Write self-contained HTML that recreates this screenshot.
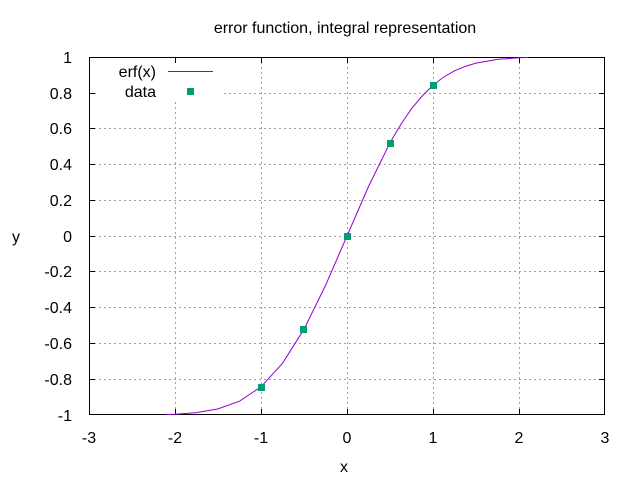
<!DOCTYPE html><html><head><style>body{margin:0;background:#fff}svg{display:block}text{font-family:"Liberation Sans",sans-serif;font-size:16px;fill:#000}</style></head><body>
<svg width="640" height="480" xmlns="http://www.w3.org/2000/svg">
<g stroke="#a0a0a0" stroke-width="1" stroke-dasharray="2,3">
<path d="M175.5 57V415M261.5 57V415M347.5 57V415M433.5 57V415M519.5 57V415"/>
<path d="M89 93.5H605M89 128.5H605M89 164.5H605M89 200.5H605M89 236.5H605M89 271.5H605M89 307.5H605M89 343.5H605M89 379.5H605"/>
</g>
<rect x="98" y="60" width="124" height="40" fill="#fff"/>
<rect x="89.5" y="57.5" width="515" height="357" fill="none" stroke="#000"/>
<g stroke="#000">
<path d="M175.5 415v-6M261.5 415v-6M347.5 415v-6M433.5 415v-6M519.5 415v-6M175.5 57v6M261.5 57v6M347.5 57v6M433.5 57v6M519.5 57v6"/>
<path d="M89 93.5h6M89 128.5h6M89 164.5h6M89 200.5h6M89 236.5h6M89 271.5h6M89 307.5h6M89 343.5h6M89 379.5h6M605 93.5h-6M605 128.5h-6M605 164.5h-6M605 200.5h-6M605 236.5h-6M605 271.5h-6M605 307.5h-6M605 343.5h-6M605 379.5h-6"/>
</g>
<g text-anchor="end">
<text x="72" y="63">1</text><text x="72" y="99">0.8</text><text x="72" y="134">0.6</text><text x="72" y="170">0.4</text><text x="72" y="206">0.2</text><text x="72" y="242">0</text><text x="72" y="277">-0.2</text><text x="72" y="313">-0.4</text><text x="72" y="349">-0.6</text><text x="72" y="385">-0.8</text><text x="72" y="421">-1</text>
</g>
<g text-anchor="middle">
<text x="89" y="443">-3</text><text x="175" y="443">-2</text><text x="261" y="443">-1</text><text x="347" y="443">0</text><text x="433" y="443">1</text><text x="519" y="443">2</text><text x="605" y="443">3</text>
<text x="345" y="33">error function, integral representation</text>
<text x="344" y="472">x</text>
<text x="16" y="242">y</text>
</g>
<text x="156" y="77" text-anchor="end">erf(x)</text>
<text x="156" y="97" text-anchor="end">data</text>
<path d="M168 71.5H213" stroke="#9400d3"/>
<polyline fill="none" stroke="#9400d3" points="166.4,414.5 175,414.2 196.5,412.6 218,408.9 239.5,401.2 261,386.8 282.5,363.3 304,329.2 325.5,285.5 347,236 368.5,186.5 390,142.8 400.8,124.5 411.5,108.7 422.3,95.9 433,85.2 443.8,77 454.5,70.8 465.3,66.4 476,63.1 497.5,59.4 519,57.8 527.6,57.5"/>
<g fill="#009e73">
<rect x="187" y="88" width="7" height="7"/>
<rect x="258" y="384" width="7" height="7"/><rect x="300" y="326" width="7" height="7"/><rect x="344" y="233" width="7" height="7"/><rect x="387" y="140" width="7" height="7"/><rect x="430" y="82" width="7" height="7"/>
</g>
</svg></body></html>
